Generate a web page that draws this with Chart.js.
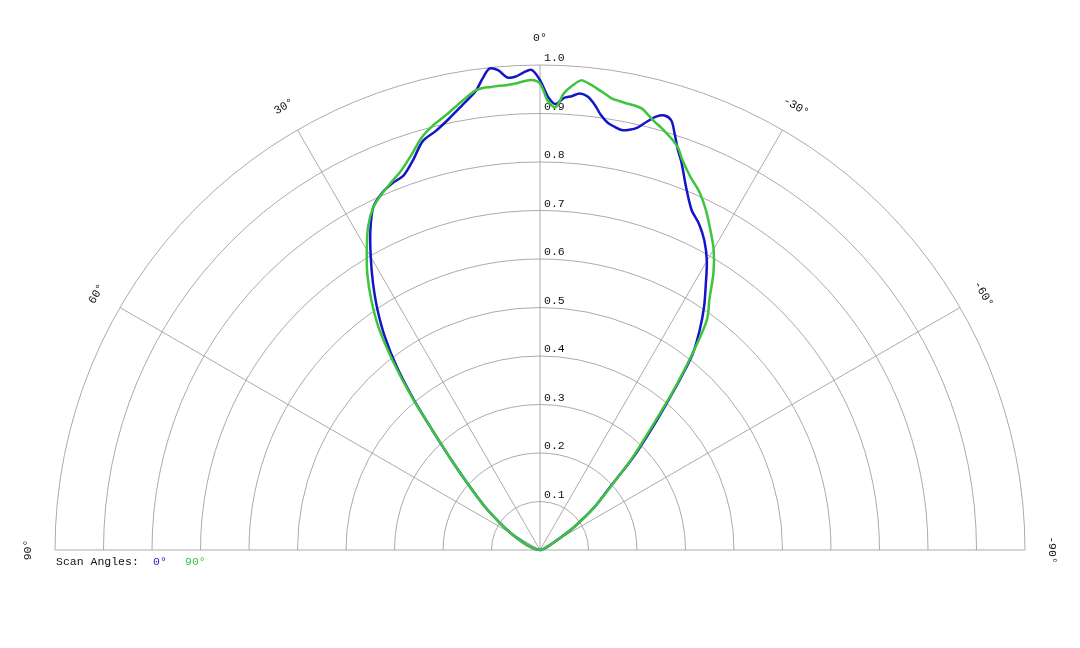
<!DOCTYPE html>
<html>
<head>
<meta charset="utf-8">
<script src="https://cdn.jsdelivr.net/npm/chart.js@4/dist/chart.umd.min.js"></script>
<style>
  html, body { margin: 0; padding: 0; background: #fff; }
  #wrap { width: 1080px; height: 648px; }
</style>
</head>
<body>
<div id="wrap"><canvas id="polar" width="1080" height="648"></canvas></div>
<script>
// angle in degrees (positive = left of 0°), relative intensity
const angles = [90, 80, 70, 65, 60, 56, 52, 48, 45, 42, 40, 38, 36, 34, 32, 30, 28, 26, 24, 22, 20, 18, 16, 14, 12, 10, 8, 7, 6, 5, 4, 3, 2, 1, 0,
  -1, -2, -3, -4, -5, -6, -7, -8, -9, -10, -11, -12, -13, -14, -15, -16, -17, -18, -19, -20, -22, -24, -26, -28, -30,
  -32, -34, -36, -38, -40, -42, -45, -48, -52, -56, -60, -65, -70, -80, -90];

const scan0 = [0, 0.008, 0.025, 0.042, 0.07, 0.1, 0.143, 0.194, 0.25, 0.33, 0.405, 0.48, 0.545, 0.6, 0.65, 0.698, 0.745, 0.785, 0.804, 0.815, 0.822, 0.846, 0.877, 0.89, 0.908, 0.93, 0.955, 0.978, 0.998, 0.993, 0.977, 0.977, 0.985, 0.99, 0.969,
  0.935, 0.92, 0.933, 0.938, 0.945, 0.94, 0.925, 0.905, 0.892, 0.886, 0.882, 0.886, 0.894, 0.91, 0.925, 0.932, 0.926, 0.9, 0.873, 0.852, 0.805, 0.768, 0.748, 0.722, 0.688,
  0.645, 0.605, 0.56, 0.51, 0.43, 0.36, 0.275, 0.195, 0.14, 0.085, 0.04, 0.02, 0.01, 0.003, 0];

const scan90 = [0, 0.008, 0.025, 0.042, 0.07, 0.1, 0.143, 0.194, 0.25, 0.33, 0.41, 0.49, 0.565, 0.622, 0.672, 0.714, 0.755, 0.785, 0.803, 0.818, 0.834, 0.857, 0.885, 0.904, 0.919, 0.938, 0.957, 0.96, 0.96, 0.961, 0.961, 0.963, 0.967, 0.969, 0.962,
  0.926, 0.913, 0.943, 0.96, 0.972, 0.967, 0.959, 0.951, 0.943, 0.94, 0.938, 0.937, 0.934, 0.924, 0.914, 0.906, 0.897, 0.888, 0.876, 0.857, 0.829, 0.808, 0.78, 0.748, 0.716,
  0.675, 0.625, 0.585, 0.505, 0.425, 0.35, 0.27, 0.198, 0.14, 0.085, 0.04, 0.02, 0.01, 0.003, 0];

const rTicks = [0.1, 0.2, 0.3, 0.4, 0.5, 0.6, 0.7, 0.8, 0.9, 1.0];
const angleTicks = [90, 60, 30, 0, -30, -60, -90];

const FONT = '11.5px "Liberation Mono", "Courier New", monospace';

function toXY(rs) {
  return angles.map((a, i) => {
    const t = a * Math.PI / 180;
    return { x: -rs[i] * Math.sin(t), y: rs[i] * Math.cos(t) };
  });
}

// grid arcs, spokes and labels
const polarGrid = {
  id: 'polarGrid',
  beforeDatasetsDraw(chart) {
    const ctx = chart.ctx;
    const xs = chart.scales.x, ys = chart.scales.y;
    const cx = xs.getPixelForValue(0), cy = ys.getPixelForValue(0);
    const px = r => xs.getPixelForValue(r) - cx;
    const R = px(1);
    ctx.save();
    ctx.strokeStyle = '#aaaaaa';
    ctx.lineWidth = 1;
    rTicks.forEach(r => {
      ctx.beginPath();
      ctx.arc(cx, cy, px(r), Math.PI, 2 * Math.PI);
      ctx.stroke();
    });
    ctx.beginPath();
    ctx.moveTo(cx - R, cy); ctx.lineTo(cx + R, cy);
    angleTicks.forEach(a => {
      if (Math.abs(a) === 90) return;
      const t = a * Math.PI / 180;
      ctx.moveTo(cx, cy);
      ctx.lineTo(cx - R * Math.sin(t), cy - R * Math.cos(t));
    });
    ctx.stroke();

    ctx.fillStyle = '#111';
    ctx.font = FONT;
    ctx.textAlign = 'left';
    ctx.textBaseline = 'bottom';
    rTicks.forEach(r => {
      ctx.fillText(r.toFixed(1), cx + 4, cy - px(r) - 1);
    });

    ctx.textAlign = 'center';
    ctx.textBaseline = 'middle';
    const LR = R + 27;
    angleTicks.forEach(a => {
      const t = a * Math.PI / 180;
      ctx.save();
      ctx.translate(cx - LR * Math.sin(t), cy - LR * Math.cos(t));
      ctx.rotate(-t);
      ctx.fillText(a + '\u00b0', 0, 0);
      ctx.restore();
    });
    ctx.restore();
  },
  afterDraw(chart) {
    const ctx = chart.ctx;
    const xs = chart.scales.x, ys = chart.scales.y;
    const left = xs.getPixelForValue(-1), base = ys.getPixelForValue(0);
    ctx.save();
    ctx.font = FONT;
    ctx.textBaseline = 'middle';
    ctx.textAlign = 'left';
    ctx.fillStyle = '#111';
    ctx.fillText('Scan Angles:', left + 1, base + 12);
    ctx.fillStyle = '#2222c8';
    ctx.fillText('0\u00b0', left + 98, base + 12);
    ctx.fillStyle = '#3fbf3f';
    ctx.fillText('90\u00b0', left + 130, base + 12);
    ctx.restore();
  }
};

new Chart(document.getElementById('polar'), {
  type: 'scatter',
  data: {
    datasets: [
      {
        label: '90\u00b0',
        data: toXY(scan90),
        showLine: true,
        borderColor: '#3dc43d',
        borderWidth: 2.5,
        pointRadius: 0,
        tension: 0.3,
        clip: false
      },
      {
        label: '0\u00b0',
        data: toXY(scan0),
        showLine: true,
        borderColor: '#1414c8',
        borderWidth: 2.5,
        pointRadius: 0,
        tension: 0.3,
        clip: false
      }
    ]
  },
  options: {
    responsive: false,
    animation: false,
    layout: { padding: { left: 55, right: 55, top: 65, bottom: 98 } },
    scales: {
      x: { type: 'linear', min: -1, max: 1, display: false },
      y: { type: 'linear', min: 0, max: 1, display: false }
    },
    plugins: {
      legend: { display: false },
      tooltip: { enabled: false }
    }
  },
  plugins: [polarGrid]
});
</script>
</body>
</html>
